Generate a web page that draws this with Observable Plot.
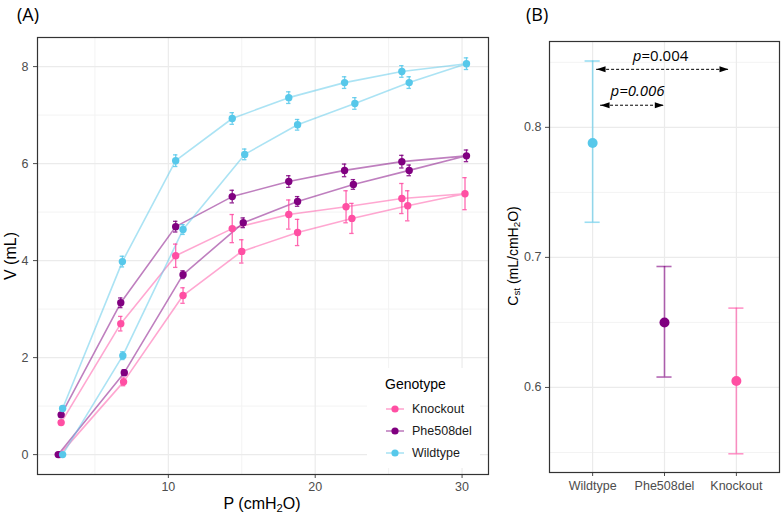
<!DOCTYPE html>
<html><head><meta charset="utf-8">
<script src="https://cdn.jsdelivr.net/npm/d3@7"></script>
<script src="https://cdn.jsdelivr.net/npm/@observablehq/plot@0.6"></script>
<style>
body{margin:0;background:#fff;}
#root{position:relative;width:782px;height:517px;overflow:hidden;font-family:"Liberation Sans",Arial,sans-serif;}
.abs{position:absolute;}
.tag{font-family:"Open Sans",sans-serif;font-size:18px;color:#000;line-height:1;}
.title{font-size:16px;color:#000;white-space:nowrap;line-height:1;}
.rot{transform:translate(-50%,-50%) rotate(-90deg);}
.ctr{transform:translate(-50%,-50%);}
sub{font-size:70%;vertical-align:-0.25em;line-height:0;}
</style></head><body><div id="root"></div>
<script>
// ---------- Data: panel A (pressure-volume loops) ----------
const genotypes = ["Knockout", "Phe508del", "Wildtype"];
const genoColors = ["#ff4fa3", "#800080", "#57c8ea"];

const koP  = [2.6, 6.95, 11.0, 15.0, 18.8, 22.5, 26.3, 30.2, 25.9, 22.1, 18.2, 14.35, 10.5, 6.76, 2.7];
const koV  = [0, 1.50, 3.28, 4.19, 4.58, 4.87, 5.13, 5.38, 5.28, 5.11, 4.95, 4.66, 4.10, 2.70, 0.66];
const koSE = [0.02, 0.08, 0.16, 0.24, 0.27, 0.31, 0.31, 0.33, 0.31, 0.33, 0.30, 0.29, 0.24, 0.15, 0.04];

const phP  = [2.5, 7.0, 11.0, 15.1, 18.8, 22.6, 26.4, 30.3, 25.9, 22.0, 18.2, 14.35, 10.5, 6.76, 2.7];
const phV  = [0, 1.69, 3.71, 4.78, 5.22, 5.57, 5.86, 6.16, 6.04, 5.86, 5.63, 5.32, 4.70, 3.13, 0.82];
const phSE = [0.02, 0.06, 0.08, 0.10, 0.10, 0.10, 0.11, 0.12, 0.13, 0.13, 0.12, 0.13, 0.11, 0.10, 0.04];

const wtP  = [2.8, 6.9, 11.0, 15.2, 18.8, 22.7, 26.4, 30.3, 25.9, 22.0, 18.2, 14.35, 10.5, 6.87, 2.8];
const wtV  = [0, 2.04, 4.64, 6.19, 6.80, 7.24, 7.67, 8.06, 7.90, 7.67, 7.36, 6.93, 6.06, 3.98, 0.95];
const wtSE = [0.03, 0.08, 0.10, 0.11, 0.11, 0.12, 0.12, 0.12, 0.12, 0.12, 0.12, 0.12, 0.12, 0.11, 0.04];

const xMajorA = [10, 20, 30], xMinorA = [5, 15, 25];
const yMajorA = [0, 2, 4, 6, 8], yMinorA = [1, 3, 5, 7];

// ---------- Data: panel B (static compliance) ----------
const groups = ["Wildtype", "Phe508del", "Knockout"];
const groupColors = ["#57c8ea", "#800080", "#ff4fa3"];
const cstMean = [0.788, 0.650, 0.605];
const cstLow  = [0.727, 0.608, 0.549];
const cstHigh = [0.851, 0.693, 0.661];
const yMajorB = [0.6, 0.7, 0.8], yMinorB = [0.55, 0.65, 0.75, 0.85];

// significance annotations
const pLabels = ["0.004", "0.006"];
const pItalicAll = [false, true];
const pArrowFrom = [1.055, 1.11];
const pArrowTo = [2.89, 1.99];
const pArrowY = [0.8446, 0.817];
const pTextX = [1.68, 1.625];
const pTextY = [0.8546, 0.8277];

// ---------- Build tables ----------
const series = [[koP, koV, koSE], [phP, phV, phSE], [wtP, wtV, wtSE]];
const pv = genotypes.flatMap((g, gi) => series[gi][0].map((p, i) => ({
  genotype: g, P: p, V: series[gi][1][i], se: series[gi][2][i]
})));
const cst = groups.map((g, i) => ({group: g, x: i + 1, mean: cstMean[i], lo: cstLow[i], hi: cstHigh[i]}));
const arrows = pLabels.map((l, i) => ({label: l, italicAll: pItalicAll[i], x1: pArrowFrom[i], x2: pArrowTo[i], y: pArrowY[i], tx: pTextX[i], ty: pTextY[i]}));

const gridMajor = "#ebebeb", gridMinor = "#f3f3f3";
const baseStyle = {fontFamily: "'Liberation Sans', Arial, sans-serif", fontSize: "12.5px", color: "#4d4d4d", background: "transparent"};

const plotA = Plot.plot({
  width: 500, height: 517,
  marginLeft: 37, marginRight: 12, marginTop: 37, marginBottom: 43,
  style: baseStyle,
  x: {domain: [1.09, 31.8], ticks: xMajorA, tickSize: 4, tickPadding: 4, label: null},
  y: {domain: [-0.41, 8.6], ticks: yMajorA, tickSize: 4, tickPadding: 5, label: null},
  color: {domain: genotypes, range: genoColors},
  marks: [
    Plot.ruleX(xMinorA, {stroke: gridMinor, strokeWidth: 1}),
    Plot.ruleY(yMinorA, {stroke: gridMinor, strokeWidth: 1}),
    Plot.ruleX(xMajorA, {stroke: gridMajor, strokeWidth: 1.2}),
    Plot.ruleY(yMajorA, {stroke: gridMajor, strokeWidth: 1.2}),
    Plot.line(pv, {x: "P", y: "V", z: "genotype", stroke: "genotype", strokeWidth: 1.6, strokeOpacity: 0.5}),
    Plot.ruleX(pv, {x: "P", y1: d => d.V - d.se, y2: d => d.V + d.se, stroke: "genotype", strokeWidth: 1.3, strokeOpacity: 0.85}),
    Plot.ruleY(pv, {y: d => d.V + d.se, x1: d => d.P - 0.15, x2: d => d.P + 0.15, stroke: "genotype", strokeWidth: 1.3, strokeOpacity: 0.85}),
    Plot.ruleY(pv, {y: d => d.V - d.se, x1: d => d.P - 0.15, x2: d => d.P + 0.15, stroke: "genotype", strokeWidth: 1.3, strokeOpacity: 0.85}),
    Plot.dot(pv, {x: "P", y: "V", fill: "genotype", r: 3.7}),
    Plot.frame({stroke: "#333333", strokeWidth: 1.2})
  ]
});

const triRight = {draw(ctx, size) { const r = Math.sqrt(size / Math.PI); ctx.moveTo(0, 0); ctx.lineTo(-3 * r, -r); ctx.lineTo(-3 * r, r); ctx.closePath(); }};
const triLeft = {draw(ctx, size) { const r = Math.sqrt(size / Math.PI); ctx.moveTo(0, 0); ctx.lineTo(3 * r, -r); ctx.lineTo(3 * r, r); ctx.closePath(); }};

const plotB = Plot.plot({
  width: 282, height: 517,
  marginLeft: 49, marginRight: 3, marginTop: 41, marginBottom: 45,
  style: baseStyle,
  x: {domain: [0.4, 3.6], ticks: [1, 2, 3], tickFormat: i => groups[i - 1], tickSize: 4, tickPadding: 5, label: null},
  y: {domain: [0.5346, 0.866], ticks: yMajorB, tickFormat: d3.format(".1f"), tickSize: 4, tickPadding: 4, label: null},
  marks: [
    Plot.ruleY(yMinorB, {stroke: gridMinor, strokeWidth: 1}),
    Plot.ruleX([1, 2, 3], {stroke: gridMajor, strokeWidth: 1.2}),
    Plot.ruleY(yMajorB, {stroke: gridMajor, strokeWidth: 1.2}),
    Plot.ruleX(cst, {x: "x", y1: "lo", y2: "hi", stroke: (d, i) => groupColors[i], strokeWidth: 1.6, strokeOpacity: 0.6}),
    Plot.ruleY(cst, {y: "hi", x1: d => d.x - 0.105, x2: d => d.x + 0.105, stroke: (d, i) => groupColors[i], strokeWidth: 1.6, strokeOpacity: 0.6}),
    Plot.ruleY(cst, {y: "lo", x1: d => d.x - 0.105, x2: d => d.x + 0.105, stroke: (d, i) => groupColors[i], strokeWidth: 1.6, strokeOpacity: 0.6}),
    Plot.dot(cst, {x: "x", y: "mean", fill: (d, i) => groupColors[i], r: 5}),
    Plot.ruleY(arrows, {y: "y", x1: "x1", x2: "x2", stroke: "#000", strokeWidth: 1, strokeDasharray: "3,2"}),
    Plot.dot(arrows, {x: "x2", y: "y", symbol: triRight, r: 3, fill: "#000", stroke: null}),
    Plot.dot(arrows, {x: "x1", y: "y", symbol: triLeft, r: 3, fill: "#000", stroke: null}),
    Plot.text(arrows.filter(d => !d.italicAll), {x: "tx", y: "ty", text: d => "p", fontStyle: "italic", textAnchor: "end", fill: "#000", fontSize: 15, fontFamily: "'Open Sans', sans-serif"}),
    Plot.text(arrows.filter(d => !d.italicAll), {x: "tx", y: "ty", text: d => "=" + d.label, textAnchor: "start", fill: "#000", fontSize: 15, fontFamily: "'Open Sans', sans-serif"}),
    Plot.text(arrows.filter(d => d.italicAll), {x: "tx", y: "ty", text: d => "p=" + d.label, fontStyle: "italic", fill: "#000", fontSize: 15, fontFamily: "'Open Sans', sans-serif"}),
    Plot.frame({stroke: "#333333", strokeWidth: 1.2})
  ]
});

const root = document.getElementById("root");
function place(el, left, top) { el.classList.add("abs"); el.style.left = left + "px"; el.style.top = top + "px"; root.appendChild(el); return el; }
place(plotA, 0, 0);
place(plotB, 500, 0);

function html(str, cls, left, top, extra) {
  const d = document.createElement("div");
  d.className = cls; d.innerHTML = str;
  if (extra) Object.assign(d.style, extra);
  return place(d, left, top);
}
html("(A)", "tag", 17, 5);
html("(B)", "tag", 526, 5);
html("V (mL)", "title rot", 11, 256);
html("P (cmH<sub>2</sub>O)", "title ctr", 262, 504);
html("C<sub>st</sub> (mL/cmH<sub>2</sub>O)", "title rot", 513, 256, {fontSize: "14px"});

// legend
const leg = document.createElement("div");
Object.assign(leg.style, {width: "113px", height: "100px", background: "#fff"});
place(leg, 367, 368);
const lt = document.createElement("div");
lt.textContent = "Genotype";
Object.assign(lt.style, {position: "absolute", left: "18px", top: "9px", fontSize: "14px", color: "#000", lineHeight: "1"});
leg.appendChild(lt);
genotypes.forEach((g, i) => {
  const cy = 41 + i * 22;
  const s = d3.create("svg").attr("width", 20).attr("height", 10)
    .style("position", "absolute").style("left", "18px").style("top", (cy - 5) + "px");
  s.append("line").attr("x1", 1).attr("x2", 19).attr("y1", 5).attr("y2", 5)
    .attr("stroke", genoColors[i]).attr("stroke-opacity", 0.5).attr("stroke-width", 1.6);
  s.append("circle").attr("cx", 10).attr("cy", 5).attr("r", 3.6).attr("fill", genoColors[i]);
  leg.appendChild(s.node());
  const t = document.createElement("div");
  t.textContent = g;
  Object.assign(t.style, {position: "absolute", left: "45px", top: (cy - 7) + "px", fontSize: "12.5px", color: "#1a1a1a", lineHeight: "14px"});
  leg.appendChild(t);
});
</script></body></html>
